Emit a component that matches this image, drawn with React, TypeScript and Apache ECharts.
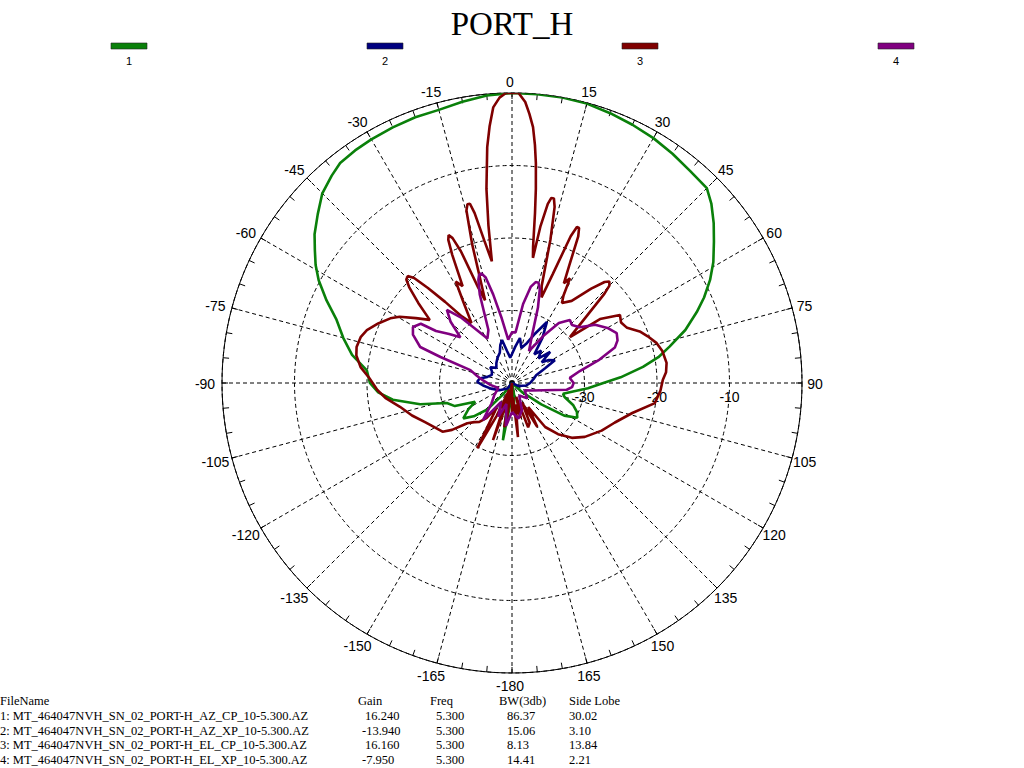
import React, { useEffect, useRef } from "react";
import * as echarts from "echarts";

// ---------- data (angle in degrees, level in dB) ----------
const seriesNames = ["1", "2", "3", "4"];
const seriesColors = ["#0a800a", "#00007f", "#7f0000", "#800080"];

const azCp: [number, number][] = [
  [-180, -40], [-175, -37], [-171, -32], [-167, -37], [-162, -40], [-150, -40], [-142, -38], [-137, -35],
  [-131, -33], [-126, -31.7], [-121, -33], [-117, -34.3], [-112, -31.5], [-107, -30.6], [-103, -27],
  [-98, -23.4], [-94, -21.5], [-90, -20.4], [-85, -19.9], [-80, -17.6], [-75, -15.9], [-70, -14.2],
  [-66, -12], [-62, -9.8], [-59, -8.4], [-56, -7.2], [-53, -5.9], [-49, -4.5], [-45, -3], [-41, -2.1],
  [-38, -1.5], [-34, -1.3], [-30, -1.2], [-25, -1.1], [-20, -1], [-15, -1], [-10, -0.6], [-5, -0.2],
  [0, 0], [5, 0], [10, 0], [15, -0.1], [20, -0.4], [25, -0.7], [30, -1], [35, -1.4], [40, -1.8],
  [45, -2], [48, -3], [51.6, -4.5], [55, -6], [59, -7.6], [62.5, -9.2], [66, -11], [69, -12.7],
  [73, -15], [77, -17.7], [80, -19.5], [83, -21.8], [87, -25], [90, -27.4], [94, -29.5], [98, -31.5],
  [102, -32.8], [105, -32.5], [110, -31], [114, -30.2], [118, -29.8], [122, -31.5], [126, -35],
  [132, -38], [140, -40], [160, -40], [170, -38], [175, -37], [180, -40],
];

const azXp: [number, number][] = [
  [-180, -40], [-160, -40], [-140, -39], [-120, -38], [-105, -37], [-95, -36], [-88, -35.2], [-82, -35.5],
  [-76, -36.5], [-68, -37], [-60, -36.8], [-54, -36.3], [-46, -37], [-38, -36.5], [-30, -36], [-22, -35.5],
  [-17, -34.5], [-13, -33.9], [-9, -35.5], [-4, -36.5], [0, -36], [5, -35], [10, -33.7], [15, -35],
  [20.6, -34.1], [25, -32.5], [29.8, -30.3], [34, -32.5], [38, -35], [42, -34], [47, -35], [50.8, -33.2],
  [55, -35], [58, -34], [62, -33.3], [66, -35], [72, -36.5], [80, -37], [90, -37.5], [100, -38],
  [115, -39], [130, -40], [180, -40],
];

const elCp: [number, number][] = [
  [-180, -36], [-176, -40], [-172, -35], [-170, -33.8], [-167, -39], [-164, -36], [-161.6, -31.7],
  [-158, -39], [-155, -35], [-152, -29.8], [-148, -36], [-144, -34], [-140, -33], [-136, -32.5],
  [-132, -31.7], [-128, -29.5], [-125, -28.3], [-119, -27.6], [-114, -26.8], [-108, -25.5], [-102, -24.2],
  [-97, -22.5], [-93, -21.4], [-88, -20.3], [-84, -19], [-80, -18.2], [-77, -18], [-73, -18.2],
  [-70, -18.7], [-66, -19.8], [-62, -21], [-59.5, -22], [-56, -24], [-52.5, -25.7], [-49.5, -23],
  [-47, -20.6], [-45.6, -19.6], [-44.3, -19.4], [-43, -20.2], [-41.5, -22.5], [-39.5, -25.5],
  [-37, -28.5], [-34, -30], [-31, -27], [-29, -24], [-27, -25], [-25, -20.5], [-24, -18.4],
  [-23.2, -17.8], [-22.3, -18.4], [-21.2, -20.5], [-19.5, -26], [-18, -28], [-16, -20], [-14.8, -15.4],
  [-14, -14.6], [-13.2, -14.6], [-12.4, -16], [-11, -20], [-9.4, -23], [-8.5, -18],
  [-7.5, -13], [-6, -7.3], [-5, -4.5], [-3.9, -1.9], [-2.5, -0.6], [-1.2, 0], [0, 0], [1.3, 0],
  [2.7, -1.2], [3.7, -2.8], [4.7, -4.6], [5.5, -7], [6.2, -9.5], [7, -13], [7.7, -16.3], [8.8, -21],
  [9.5, -22.5], [10.3, -18], [11.3, -14.8], [12, -13.9], [12.8, -13.9], [13.6, -15], [15, -19.5],
  [17, -26], [19, -27.5], [20.5, -24], [21.8, -18.2], [22.6, -16.7], [23.4, -16.7], [24.3, -17.8],
  [26, -22], [27.5, -24.5], [29, -23.5], [30.5, -26], [32, -27], [36, -26], [40, -23], [42.5, -21.1],
  [43.8, -20.6], [45, -21], [46, -22.3], [48, -26], [51.6, -29.8], [54, -25], [57.8, -22.4], [61, -22.8],
  [64.4, -22.4], [68, -21], [71, -20.2], [74.6, -19.3], [78, -18.8], [82.6, -18.5], [86, -18.7],
  [88.9, -19.2], [93, -19.5], [98, -20.1], [104, -22.9], [111, -24.8], [118, -26], [126.5, -27.5],
  [132.5, -28.8], [138, -30.5], [143, -32.4], [146, -36], [150, -33], [153, -37], [156, -34],
  [160, -33.5], [163, -38], [166, -35], [170, -37], [173.7, -32.5], [176, -38], [180, -36],
];

const elXp: [number, number][] = [
  [-180, -36], [-172, -34], [-165, -37], [-158, -35], [-150, -37], [-142, -33.5], [-135, -36],
  [-125, -37], [-110, -38], [-95, -37], [-85, -36], [-78, -35], [-72.8, -34], [-70, -29.5],
  [-68.6, -26.4], [-64, -24.8], [-60.5, -24.3], [-57, -25], [-55.6, -27.3], [-52, -29], [-48.5, -30.5],
  [-45, -28], [-41.7, -26.5], [-38, -28.5], [-34, -31], [-29, -33], [-24, -32], [-20, -27], [-18, -25],
  [-16.9, -24.4], [-15.6, -24.3], [-14, -25], [-12, -27.5], [-9, -31], [-5, -34], [0, -33], [4, -33],
  [8, -29], [11, -26.5], [13.2, -25.7], [14.8, -25.7], [16.5, -26.5], [19, -29], [23, -33], [28, -35],
  [34, -32], [38, -29.5], [42.6, -28.2], [46, -28.5], [50.5, -27.9], [55, -26], [60, -24.8], [64.5, -24],
  [68, -24.3], [71, -25], [75, -27.5], [80, -30.5], [85, -32], [90, -31.5], [94, -31.7], [97, -32.4],
  [103, -35.6], [110, -37], [120, -38], [135, -37], [150, -38], [160, -36], [170, -35], [180, -36],
];

const seriesData = [azCp, azXp, elCp, elXp];

const radialTicks = [-30, -20, -10];
const angleTickLabels = [0, 15, 30, 45, 60, 75, 90, 105, 120, 135, 150, 165, -180, -165, -150, -135, -120, -105, -90, -75, -60, -45, -30, -15];

const tableHeader = ["FileName", "Gain", "Freq", "BW(3db)", "Side Lobe"];
const fileNames = [
  "1: MT_464047NVH_SN_02_PORT-H_AZ_CP_10-5.300.AZ",
  "2: MT_464047NVH_SN_02_PORT-H_AZ_XP_10-5.300.AZ",
  "3: MT_464047NVH_SN_02_PORT-H_EL_CP_10-5.300.AZ",
  "4: MT_464047NVH_SN_02_PORT-H_EL_XP_10-5.300.AZ",
];
const gains = ["16.240", "-13.940", "16.160", "-7.950"];
const freqs = ["5.300", "5.300", "5.300", "5.300"];
const beamwidths = ["86.37", "15.06", "8.13", "14.41"];
const sideLobes = ["30.02", "3.10", "13.84", "2.21"];

// ---------- layout ----------
const CX = 512;
const CY = 383;
const R = 290;
const LABEL_RX = 305;
const LABEL_RY = 302;
const RMIN = -40;
const RMAX = 0;
const SERIF = "'Liberation Serif', 'Times New Roman', serif";
const SANS = "'Liberation Sans', Arial, sans-serif";

export default function App() {
  const ref = useRef<HTMLDivElement>(null);

  useEffect(() => {
    document.body.style.margin = "0";
    if (!ref.current) return;
    const chart = echarts.init(ref.current, undefined, { renderer: "svg" });

    const graphics: any[] = [];
    // legend
    const legendCenters = [129, 385, 640, 896];
    seriesNames.forEach((n, i) => {
      graphics.push({
        type: "rect",
        shape: { x: legendCenters[i] - 18, y: 43, width: 36, height: 6 },
        style: { fill: seriesColors[i], stroke: "#222", lineWidth: 0.6 },
      });
      graphics.push({
        type: "text",
        x: legendCenters[i],
        y: 61,
        style: { text: n, fill: "#000", font: `11px ${SANS}`, align: "center", verticalAlign: "middle" },
      });
    });
    // angle labels
    angleTickLabels.forEach((a) => {
      const rad = (a * Math.PI) / 180;
      graphics.push({
        type: "text",
        x: CX - 2 + LABEL_RX * Math.sin(rad),
        y: CY + 1 - LABEL_RY * Math.cos(rad),
        style: { text: String(a), fill: "#000", font: `14px ${SANS}`, align: "center", verticalAlign: "middle" },
      });
    });
    // radial labels
    radialTicks.forEach((v) => {
      graphics.push({
        type: "text",
        x: CX + ((v - RMIN) / (RMAX - RMIN)) * R,
        y: CY + 14,
        z: 1,
        style: { text: String(v), fill: "#000", font: `14px ${SANS}`, align: "center", verticalAlign: "middle" },
      });
    });
    // table
    const colX = [0, 358, 430, 499, 569];
    const valX = [0, 365, 436, 507, 569];
    const rowY0 = 701;
    const rowStep = 14.8;
    tableHeader.forEach((h, i) => {
      graphics.push({
        type: "text",
        x: colX[i],
        y: rowY0,
        style: { text: h, fill: "#000", font: `12.5px ${SERIF}`, align: "left", verticalAlign: "middle" },
      });
    });
    fileNames.forEach((f, r) => {
      const cells = [f, gains[r], freqs[r], beamwidths[r], sideLobes[r]];
      cells.forEach((c, i) => {
        const neg = c.startsWith("-") ? -3 : 0;
        graphics.push({
          type: "text",
          x: valX[i] + (i > 0 ? neg : 0),
          y: rowY0 + rowStep * (r + 1),
          style: { text: c, fill: "#000", font: `12.5px ${SERIF}`, align: "left", verticalAlign: "middle" },
        });
      });
    });

    const dashed = { color: "#000", width: 1, type: [4, 3] };

    chart.setOption({
      animation: false,
      backgroundColor: "#fff",
      title: {
        text: "PORT_H",
        left: "center",
        top: 2,
        textStyle: { fontFamily: SERIF, fontSize: 33, fontWeight: "normal", color: "#000" },
      },
      polar: [
        { center: [CX, CY], radius: R },
        { center: [CX, CY], radius: R },
      ],
      angleAxis: [
        {
          polarIndex: 0,
          type: "value",
          min: 0,
          max: 360,
          interval: 15,
          startAngle: 90,
          clockwise: true,
          axisLine: { show: true, lineStyle: { color: "#000", width: 1 } },
          axisTick: { show: false },
          axisLabel: { show: false },
          splitLine: { show: true, lineStyle: dashed },
        },
        {
          polarIndex: 1,
          type: "value",
          min: 0,
          max: 360,
          interval: 5,
          startAngle: 90,
          clockwise: true,
          axisLine: { show: false },
          axisTick: { show: true, inside: true, length: 6, lineStyle: { color: "#000", width: 1 } },
          axisLabel: { show: false },
          splitLine: { show: false },
        },
      ],
      radiusAxis: [
        {
          polarIndex: 0,
          type: "value",
          min: RMIN,
          max: RMAX,
          interval: 10,
          axisLine: { show: false },
          axisTick: { show: false },
          axisLabel: { show: false },
          splitLine: { show: true, lineStyle: dashed },
        },
        {
          polarIndex: 1,
          type: "value",
          min: RMIN,
          max: RMAX,
          interval: 10,
          axisLine: { show: false },
          axisTick: { show: false },
          axisLabel: { show: false },
          splitLine: { show: false },
        },
      ],
      graphic: graphics,
      series: seriesData.map((d, i) => ({
        name: seriesNames[i],
        type: "line",
        coordinateSystem: "polar",
        polarIndex: 0,
        showSymbol: false,
        symbol: "none",
        lineStyle: { color: seriesColors[i], width: 2.6 },
        itemStyle: { color: seriesColors[i] },
        data: d.map(([a, db]) => [db, (a + 360) % 360]),
        z: 3 + i,
      })),
    });

    return () => chart.dispose();
  }, []);

  return <div ref={ref} style={{ width: 1024, height: 768 }} />;
}
